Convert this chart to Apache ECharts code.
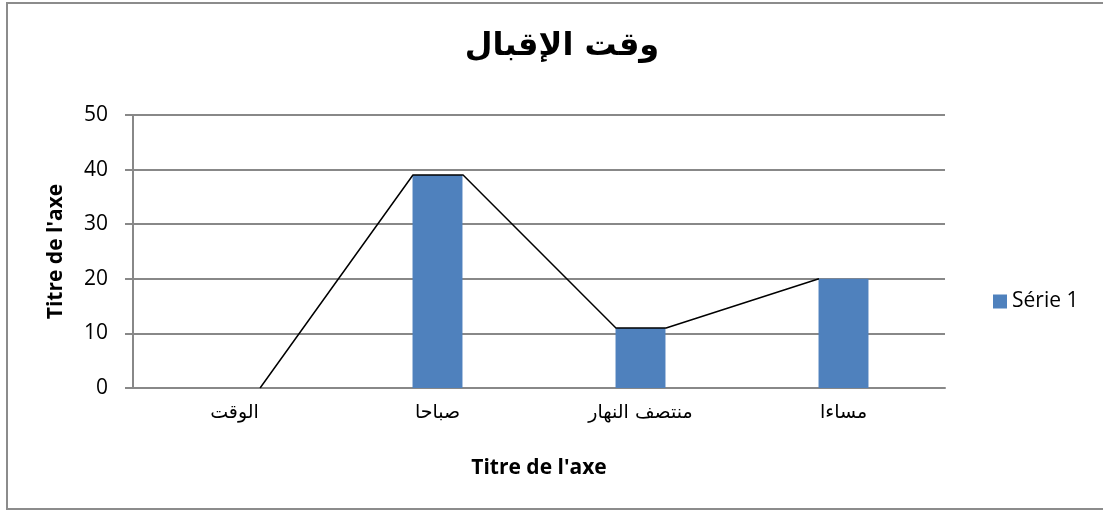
<!DOCTYPE html>
<html><head><meta charset="utf-8">
<script src="https://cdn.jsdelivr.net/npm/echarts@6/dist/echarts.min.js"></script>
<style>html,body{margin:0;padding:0;background:#fff}#c{width:1103px;height:511px}</style>
</head><body><div id="c"></div>
<script>
const titleText = 'وقت الإقبال';
const categories = ['الوقت', 'صباحا', 'منتصف النهار', 'مساءا'];
const seriesName = 'Série 1';
const barValues = [0, 39, 11, 20];
// freehand connector line drawn over the chart (x in category band units, y in value units)
const lineX = [0.626, 1.379, 1.626, 2.379, 2.626, 3.379];
const lineY = [0, 39, 39, 11, 11, 20];
const yTicks = {min: 0, max: 50, interval: 10};
const axisTitle = "Titre de l'axe";

const chart = echarts.init(document.getElementById('c'));
chart.setOption({
  animation: false,
  backgroundColor: '#fff',
  title: {text: titleText, left: 557, top: 26, textAlign: 'center',
    textStyle: {fontFamily: 'DejaVu Sans', fontWeight: 'bold', fontSize: 32, color: '#000'}},
  graphic: [{type: 'polyline', shape: {points: [[1200, 3], [7, 3], [7, 509], [1200, 509]]},
    style: {fill: 'none', stroke: '#8c8c8c', lineWidth: 2}, silent: true}],
  legend: {data: [seriesName], left: 988, top: 286, itemWidth: 14, itemHeight: 14, itemGap: 6,
    icon: 'rect', textStyle: {fontFamily: 'Open Sans', fontSize: 21, color: '#000'}},
  grid: {left: 133, right: 158, top: 115, bottom: 123},
  xAxis: [{
    type: 'category', data: categories,
    name: axisTitle, nameLocation: 'middle', nameGap: 70,
    nameTextStyle: {fontFamily: 'Open Sans', fontWeight: 'bold', fontSize: 21, color: '#000'},
    axisLine: {lineStyle: {color: '#888', width: 2}},
    axisTick: {show: false},
    axisLabel: {fontFamily: 'DejaVu Sans', fontSize: 19, color: '#000', margin: 16}
  }, {
    type: 'value', min: 0, max: 4, show: false
  }],
  yAxis: {
    type: 'value', min: yTicks.min, max: yTicks.max, interval: yTicks.interval,
    name: axisTitle, nameLocation: 'middle', nameGap: 66, nameRotate: 90,
    nameTextStyle: {fontFamily: 'Open Sans', fontWeight: 'bold', fontSize: 21, color: '#000'},
    axisLine: {show: true, lineStyle: {color: '#888', width: 2}},
    axisTick: {show: true, length: 8, inside: false, lineStyle: {color: '#888', width: 2}},
    axisLabel: {fontFamily: 'Open Sans', fontSize: 21, color: '#000', margin: 25},
    splitLine: {lineStyle: {color: '#888', width: 2}}
  },
  series: [{
    name: seriesName, type: 'bar', data: barValues, barWidth: '24.6%',
    itemStyle: {color: '#4f81bd'}, xAxisIndex: 0
  }, {
    type: 'line', xAxisIndex: 1, data: lineX.map((x, i) => [x, lineY[i]]),
    symbol: 'none', lineStyle: {color: '#000', width: 1.5}, z: 5
  }]
});
</script></body></html>
